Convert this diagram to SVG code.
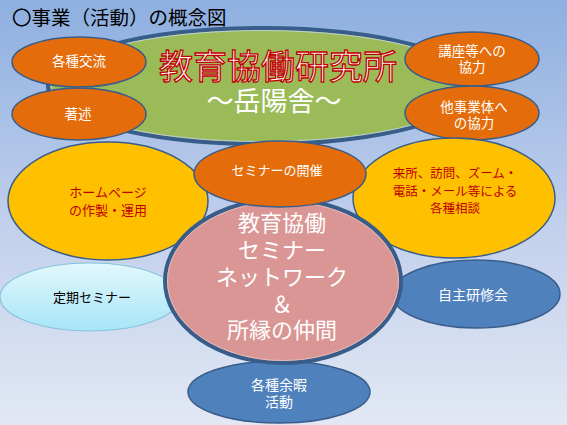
<svg xmlns="http://www.w3.org/2000/svg" width="567" height="425" viewBox="0 0 567 425">
<defs>
<linearGradient id="bg" x1="0" y1="0" x2="0" y2="1">
<stop offset="0" stop-color="#8eafe0"/>
<stop offset="0.55" stop-color="#c3d1ec"/>
<stop offset="1" stop-color="#e2e8f4"/>
</linearGradient>
<linearGradient id="cyan" x1="0" y1="0" x2="0" y2="1">
<stop offset="0" stop-color="#e2f7fc"/>
<stop offset="1" stop-color="#a6e5f7"/>
</linearGradient>
<style>
text{font-family:"Noto Sans CJK JP","Noto Sans",sans-serif;text-anchor:middle}
.o{fill:#e46c0a;stroke:#385d8a;stroke-width:1.5}
.y{fill:#ffc000;stroke:#385d8a;stroke-width:1.5}
.b{fill:#4f81bd;stroke:#385d8a;stroke-width:1.5}
.w{fill:#ffffff;font-size:13.5px}
.r{fill:#c00000;font-size:13px}
.dbl{fill:none;stroke:#385d8a;stroke-width:4}
.inner{fill:none;stroke:#c8d6ee;stroke-width:0.8}
</style>
</defs>
<rect width="567" height="425" fill="url(#bg)"/>
<text x="12" y="25" style="text-anchor:start;font-size:19.5px;fill:#000">〇事業（活動）の概念図</text>

<g id="center-institute">
<ellipse cx="262" cy="86" rx="214" ry="58" fill="#9bbb59"/>
<ellipse class="dbl" cx="262" cy="86" rx="214" ry="58"/>
<ellipse class="inner" cx="262" cy="86" rx="211" ry="55.5"/>
<text x="278" y="79" style="font-size:34px;fill:#ffffff;stroke:#c00000;stroke-width:1.3">教育協働研究所</text>
<text x="274" y="111" style="font-size:27px;fill:#ffffff">～岳陽舎～</text>
</g>

<g id="node-kakushu-koryu">
<ellipse class="o" cx="79" cy="62" rx="67" ry="25"/>
<text class="w" x="79" y="66">各種交流</text>
</g>
<g id="node-chojutsu">
<ellipse class="o" cx="79" cy="114" rx="67" ry="26"/>
<text class="w" x="78" y="119">著述</text>
</g>
<g id="node-koza">
<ellipse class="o" cx="472" cy="59" rx="67" ry="27"/>
<text class="w" x="472" y="56">講座等への</text>
<text class="w" x="472" y="72">協力</text>
</g>
<g id="node-tajigyo">
<ellipse class="o" cx="472" cy="113" rx="67" ry="27"/>
<text class="w" x="474" y="112">他事業体へ</text>
<text class="w" x="474" y="127.5">の協力</text>
</g>

<g id="node-homepage">
<ellipse class="y" cx="108" cy="201" rx="100" ry="59"/>
<text class="r" x="108" y="197">ホームページ</text>
<text class="r" x="108" y="215">の作製・運用</text>
</g>
<g id="node-sodan">
<ellipse class="y" cx="454" cy="198" rx="101" ry="60"/>
<text class="r" x="455" y="178" style="font-size:12.5px">来所、訪問、ズーム・</text>
<text class="r" x="455" y="195.5" style="font-size:12.5px">電話・メール等による</text>
<text class="r" x="455" y="213" style="font-size:12.5px">各種相談</text>
</g>

<g id="node-teiki">
<ellipse cx="90" cy="297" rx="90" ry="34" fill="url(#cyan)" stroke="#86c4dc" stroke-width="1.2"/>
<text x="92" y="302" style="font-size:13px;fill:#000">定期セミナー</text>
</g>
<g id="node-jishu">
<ellipse class="b" cx="476" cy="294" rx="84" ry="34"/>
<text class="w" x="473" y="300" style="font-size:14px">自主研修会</text>
</g>
<g id="node-yoka">
<ellipse class="b" cx="279" cy="392" rx="91" ry="31"/>
<text class="w" x="279" y="390" style="font-size:14px">各種余暇</text>
<text class="w" x="279" y="407" style="font-size:14px">活動</text>
</g>

<g id="node-network">
<ellipse cx="283" cy="281" rx="118" ry="82" fill="#d99694"/>
<ellipse class="dbl" cx="283" cy="281" rx="118" ry="82"/>
<ellipse class="inner" cx="283" cy="281" rx="115.5" ry="79.5" style="stroke:#e8c4c4"/>
<text x="282" y="231" style="font-size:22px;fill:#fff">教育協働</text>
<text x="282" y="258" style="font-size:22px;fill:#fff">セミナー</text>
<text x="282" y="285" style="font-size:22px;fill:#fff">ネットワーク</text>
<text x="282" y="312" style="font-size:22px;fill:#fff">＆</text>
<text x="282" y="338" style="font-size:22px;fill:#fff">所縁の仲間</text>
</g>

<g id="node-seminar-kaisai">
<ellipse class="o" cx="280" cy="174" rx="86" ry="33"/>
<text class="w" x="277" y="175" style="font-size:13px">セミナーの開催</text>
</g>

<g id="connectors"></g>
</svg>
